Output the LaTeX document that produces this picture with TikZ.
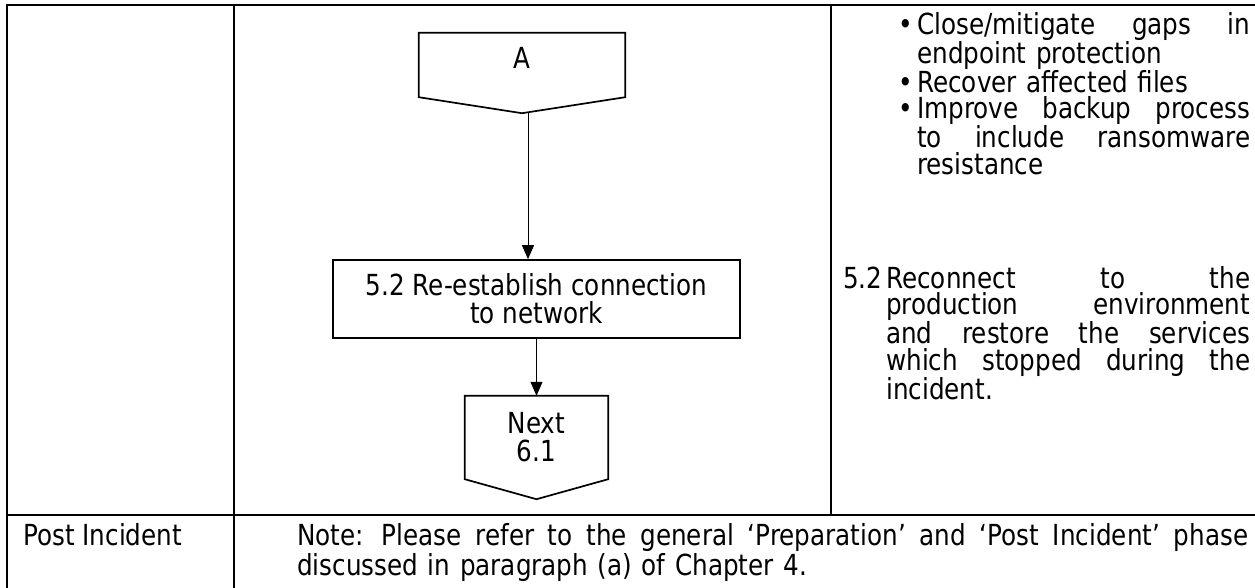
\documentclass[tikz,border=0pt]{standalone}
\usepackage{fontspec}
\setmainfont{DejaVu Sans}[FakeStretch=0.85]
\usetikzlibrary{arrows.meta}
\setlength{\lineskiplimit}{-100pt}
\newcommand{\jline}[2]{{\spaceskip=0.3em plus 1fil\xspaceskip=0.45em plus 1fil\makebox[#1][s]{#2}}}
\newcommand{\topstrut}{\rule{0pt}{24pt}}
\begin{document}
\begin{tikzpicture}[x=1pt,y=-1pt,
    every node/.style={font=\fontsize{29}{28}\selectfont, inner sep=0pt},
    gridline/.style={line width=1.7pt},
    shapeline/.style={line width=1.7pt, line join=miter},
    flow/.style={line width=1pt, -{Triangle[length=14pt,width=12pt]}},
    txt/.style={anchor=north west, align=left},
    para/.style={txt, font=\fontsize{29}{26.5}\selectfont}]
\useasboundingbox (0,0) rectangle (1255,587);
\clip (0,0) rectangle (1255,587);
% table
\draw[gridline] (1300,5) -- (7,5) -- (7,600);
\draw[gridline] (234,5) -- (234,600);
\draw[gridline] (831,5) -- (831,515);
\draw[gridline] (7,515) -- (1300,515);
% flow chart
\node[minimum width=206pt, minimum height=64pt, text height=21pt, text depth=14pt] (A) at (522,65) {A};
\draw[shapeline] (A.north west) -- (A.north east) -- (A.south east) -- ([yshift=-16pt]A.south) -- (A.south west) -- cycle;
\coordinate (Aout) at ([xshift=6pt,yshift=-16pt]A.south);
\node[draw, shapeline, minimum width=407pt, minimum height=78pt, align=center] (reest) at (536.5,299) {5.2 Re-establish connection\\to network};
\node[minimum width=143pt, minimum height=83pt, align=center] (next) at (536.5,437.5) {Next\\6.1};
\draw[shapeline] (next.north west) -- (next.north east) -- (next.south east) -- ([yshift=-20pt]next.south) -- (next.south west) -- cycle;
\draw[flow] (Aout) -- (Aout |- reest.north);
\draw[flow] (reest.south) -- (next.north);
% right column
\node[para, text width=352pt] (clean) at (898,10) {\topstrut\makebox[19pt][l]{•}\jline{333pt}{Close/mitigate gaps in}\\
  \hspace*{19pt}endpoint protection\\
  \makebox[19pt][l]{•}Recover affected files\\
  \makebox[19pt][l]{•}\jline{333pt}{Improve backup process}\\
  \hspace*{19pt}\jline{333pt}{to include ransomware}\\
  \hspace*{19pt}resistance};
\node[para, text width=407pt] (reconn) at (843,264) {\topstrut\makebox[43pt][l]{5.2}\jline{364pt}{Reconnect to the}\\
  \hspace*{43pt}\jline{364pt}{production environment}\\
  \hspace*{43pt}\jline{364pt}{and restore the services}\\
  \hspace*{43pt}\jline{364pt}{which stopped during the}\\
  \hspace*{43pt}incident.};
% bottom row
\node[anchor=base west] (post) at (23,545) {Post Incident};
\node[txt, text width=951pt, font=\fontsize{29}{30}\selectfont] (note) at (297,521) {\topstrut\jline{951pt}{Note: Please refer to the general ‘Preparation’ and ‘Post Incident’ phase}\\
  discussed in paragraph (a) of Chapter 4.};
\end{tikzpicture}
\end{document}
